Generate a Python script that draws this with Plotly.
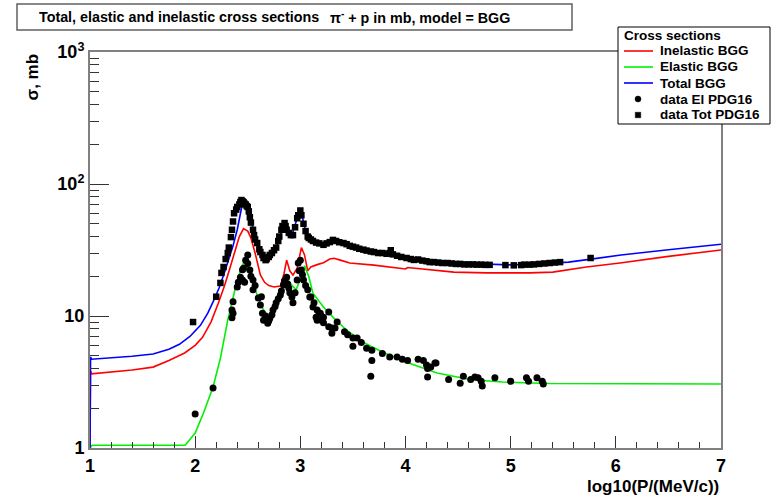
import plotly.graph_objects as go

FONT = "Liberation Sans"

# ---------------- model curves ----------------
tot_x = [1.0, 1.005, 1.015, 1.2, 1.4, 1.6, 1.75, 1.85, 1.95, 2.05, 2.12, 2.18, 2.23, 2.28, 2.32,
         2.36, 2.40, 2.43, 2.455, 2.48, 2.51, 2.55, 2.59, 2.63, 2.67, 2.71, 2.76, 2.80, 2.835,
         2.86, 2.89, 2.92, 2.96, 2.99, 3.02, 3.05, 3.08, 3.13, 3.20, 3.27, 3.32, 3.40, 3.50,
         3.65, 3.85, 4.0, 4.2, 4.45, 4.75, 5.0, 5.25, 5.55, 5.8, 6.05, 6.5, 7.0]
tot_y = [1.0, 4.9, 4.7, 4.8, 4.95, 5.15, 5.6, 6.1, 7.0, 8.5, 10.5, 13.3, 16.5, 21.5, 27,
         34, 45, 62, 75, 72, 60, 45, 36, 30, 27.5, 28.5, 32, 38, 48,
         49, 42, 41, 52, 62, 56, 44, 39, 36, 35, 37, 37.5, 35.5, 33.5,
         31, 29.5, 27.8, 26.3, 25.2, 24.6, 24.4, 24.8, 25.6, 27.2, 29, 31.8, 35]

inel_x = [1.0, 1.005, 1.015, 1.2, 1.4, 1.6, 1.75, 1.9, 2.0, 2.07, 2.15, 2.22, 2.28, 2.33, 2.38,
          2.42, 2.46, 2.50, 2.53, 2.57, 2.62, 2.66, 2.70, 2.75, 2.81, 2.845, 2.87, 2.90, 2.93,
          2.97, 3.01, 3.04, 3.07, 3.10, 3.16, 3.22, 3.28, 3.32, 3.38, 3.47, 3.70, 3.95, 4.0,
          4.02, 4.2, 4.46, 4.77, 5.18, 5.40, 5.72, 6.04, 6.5, 7.0]
inel_y = [1.0, 3.85, 3.65, 3.75, 3.9, 4.1, 4.6, 5.25, 6.0, 6.9, 9.0, 12.5, 17, 23, 32,
          40, 46, 44, 39, 30, 20.5, 18, 17, 16.6, 16.9, 21, 26.5, 22, 20.4,
          23, 33, 29, 22, 23.5, 24.5, 25.3, 27, 27.4, 26.5, 25.2, 24.3, 23.2, 22.7,
          23.3, 22.5, 21.5, 21.2, 21.2, 21.5, 23.5, 25.2, 28.3, 31.6]

el_x = [1.0, 1.02, 1.905, 2.0, 2.08, 2.17, 2.24, 2.31, 2.38, 2.44, 2.475, 2.50, 2.53, 2.57,
        2.64, 2.69, 2.74, 2.81, 2.86, 2.90, 2.96, 3.01, 3.04, 3.08, 3.12, 3.22, 3.31, 3.44,
        3.60, 3.79, 4.01, 4.30, 4.61, 4.92, 5.37, 6.05, 6.1, 7.0]
el_y = [1.0, 1.05, 1.05, 1.3, 1.85, 2.9, 4.8, 9.3, 16, 23.5, 26.5, 23, 19, 15.8,
        11.5, 9.8, 10.7, 14.9, 19.9, 17.8, 15.8, 19.9, 24, 19.9, 14.9, 11.7, 9.8, 7.8,
        6.3, 5.3, 4.47, 3.7, 3.3, 3.16, 3.08, 3.07, 3.05, 3.05]

# ---------------- data points ----------------
del_x = [2.00, 2.17, 2.35, 2.35, 2.36, 2.36, 2.40, 2.41, 2.43, 2.45, 2.45, 2.46, 2.47, 2.48,
         2.50, 2.50, 2.52, 2.53, 2.55, 2.55, 2.57, 2.60, 2.62, 2.63, 2.64, 2.65, 2.67, 2.69,
         2.70, 2.71, 2.73, 2.74, 2.76, 2.77, 2.79, 2.81, 2.82, 2.84, 2.85, 2.87, 2.88, 2.89,
         2.90, 2.92, 2.93, 2.95, 2.97, 2.98, 2.99, 3.00, 3.01, 3.02, 3.03, 3.05, 3.07, 3.09,
         3.10, 3.12, 3.13, 3.15, 3.16, 3.16, 3.18, 3.19, 3.20, 3.22, 3.22, 3.27, 3.27, 3.30,
         3.30, 3.33, 3.35, 3.42, 3.45, 3.50, 3.50, 3.54, 3.58, 3.63, 3.68, 3.68, 3.67, 3.78,
         3.85, 3.92, 3.97, 4.02, 4.12, 4.17, 4.20, 4.21, 4.21, 4.24, 4.28, 4.29, 4.41, 4.52,
         4.55, 4.62, 4.66, 4.69, 4.72, 4.73, 4.85, 5.00, 5.15, 5.17, 5.25, 5.30, 5.31]
del_y = [1.81, 2.85, 9.7, 11.1, 12.8, 10.5, 16.6, 18, 19.7, 22.4, 18.7, 23, 18, 26.5,
         29, 25, 22.3, 20, 18.7, 15.8, 17, 13.7, 12.1, 14, 10.5, 9.3, 10, 8.8,
         9.2, 9.6, 10.2, 11.1, 11.8, 12.6, 13.5, 14.4, 15.5, 17.2, 18.5, 19.7, 17.5, 16.3,
         15, 13.9, 12.6, 15, 18.7, 25.2, 22, 26.5, 22.3, 20.5, 18.7, 17, 15.8, 13.9,
         13.9, 11.7, 12.6, 9.8, 11.1, 9.3, 10.5, 10.5, 9.3, 8.9, 9.8, 8.3, 10.7, 7.4,
         8.1, 8.1, 9.0, 7.6, 7.2, 6.8, 5.9, 6.8, 6.3, 5.7, 5.5, 4.6, 3.5, 5.2,
         4.9, 4.9, 4.7, 4.6, 4.7, 4.6, 4.25, 4.0, 3.45, 4.1, 4.4, 4.4, 3.3, 3.1,
         3.5, 3.3, 3.45, 3.4, 3.2, 2.95, 3.4, 3.2, 3.4, 3.2, 3.4, 3.2, 3.05]

dtot_x = [1.98, 2.20, 2.24, 2.25, 2.27, 2.29, 2.31, 2.32, 2.34, 2.35, 2.36, 2.37, 2.39, 2.40,
          2.42, 2.43, 2.44, 2.45, 2.46, 2.47, 2.48, 2.49, 2.50, 2.51, 2.52, 2.53, 2.55, 2.56,
          2.57, 2.59, 2.61, 2.62, 2.64, 2.65, 2.67, 2.68, 2.70, 2.71, 2.73, 2.75, 2.77, 2.79,
          2.80, 2.82, 2.83, 2.85, 2.86, 2.87, 2.89, 2.91, 2.93, 2.95, 2.97, 2.98, 3.00, 3.01,
          3.03, 3.05, 3.07, 3.08, 3.10, 3.12, 3.15, 3.18, 3.22, 3.25, 3.28, 3.31, 3.34, 3.37,
          3.41, 3.44, 3.47, 3.50, 3.53, 3.56, 3.60, 3.63, 3.67, 3.70, 3.74, 3.78, 3.82, 3.85,
          3.86, 3.88, 3.92, 3.96, 4.01, 4.05, 4.08, 4.12, 4.16, 4.20, 4.23, 4.27, 4.31, 4.35,
          4.40, 4.44, 4.48, 4.52, 4.56, 4.60, 4.64, 4.68, 4.72, 4.76, 4.80, 4.95, 5.03, 5.10,
          5.13, 5.18, 5.22, 5.27, 5.32, 5.37, 5.42, 5.47, 5.76]
dtot_y = [9.0, 14, 17.8, 21.2, 23.5, 27, 30, 33, 39.6, 45, 52, 60, 64, 67,
          70, 73, 75.6, 74, 72.9, 71, 70, 68, 67, 62, 56, 51, 45, 41,
          38, 35.7, 32, 30.5, 29, 27.5, 26.5, 27, 28, 29, 30, 31.5, 33, 37,
          40, 45, 48, 50.6, 48, 45, 42.6, 41, 41, 47, 55, 58, 63, 58,
          50, 44, 40, 39, 38, 37, 36, 35.5, 34.6, 35.5, 36.3, 37.7, 37, 36.2,
          35.7, 35, 34, 33.5, 33, 32.3, 31.8, 31.3, 30.8, 30.5, 30, 30, 29.6, 30,
          31.5, 29.3, 28.6, 28, 27.5, 27, 26.6, 26.8, 26.3, 26, 25.6, 25.6, 25.4, 25.2,
          25.2, 25, 24.8, 24.8, 24.6, 24.6, 24.6, 24.5, 24.5, 24.4, 24.4, 24.3, 24.2, 24.3,
          24.5, 24.5, 24.6, 24.8, 25, 25.2, 25.4, 25.6, 27.5]

x_ticks = [1, 2, 3, 4, 5, 6, 7]
y_ticks = [1, 10, 100, 1000]
y_ticktext = ["1", "10", "10<sup>2</sup>", "10<sup>3</sup>"]
y_minor = [m * d for d in (1, 10, 100) for m in range(2, 10)]

line_series = [
    ("Inelastic BGG", inel_x, inel_y, "#ff0000"),
    ("Elastic BGG", el_x, el_y, "#00f000"),
    ("Total BGG", tot_x, tot_y, "#0000ff"),
]
point_series = [
    ("data El PDG16", del_x, del_y, "circle", 7),
    ("data Tot PDG16", dtot_x, dtot_y, "square", 6.5),
]

fig = go.Figure()
for name, xs, ys, col in line_series:
    fig.add_trace(go.Scatter(x=xs, y=ys, mode="lines", name=name, showlegend=False,
                             line=dict(color=col, width=1.6)))
for name, xs, ys, sym, sz in point_series:
    fig.add_trace(go.Scatter(x=xs, y=ys, mode="markers", name=name, showlegend=False,
                             marker=dict(symbol=sym, size=sz, color="black")))

frame = "#808080"
fig.update_xaxes(range=[1, 7], tickmode="array", tickvals=x_ticks,
                 ticks="inside", ticklen=12, tickwidth=1, tickcolor="#333",
                 minor=dict(ticks="inside", ticklen=6, dtick=0.2, tick0=1, tickcolor="#333"),
                 showline=True, mirror=True, linecolor=frame, linewidth=2,
                 showgrid=False, zeroline=False,
                 tickfont=dict(family=FONT, size=18, color="black", weight="bold"))
fig.update_yaxes(type="log", range=[0, 3], tickmode="array", tickvals=y_ticks,
                 ticktext=y_ticktext, ticks="inside", ticklen=19, tickwidth=1, tickcolor="#333",
                 minor=dict(ticks="inside", ticklen=9, tickmode="array", tickvals=y_minor,
                            tickcolor="#333"),
                 showline=True, mirror=True, linecolor=frame, linewidth=2,
                 showgrid=False, zeroline=False,
                 tickfont=dict(family=FONT, size=18, color="black", weight="bold"))

# ---------- pixel -> paper helpers (plot area: x 90..721, y 52..448) ----------
def px(x):
    return (x - 90) / 631.0

def py(y):
    return 1 + (52 - y) / 396.0

bold = lambda s: dict(family=FONT, size=s, color="black", weight="bold")

shapes = [
    # title box
    dict(type="rect", xref="paper", yref="paper", x0=px(17), x1=px(572), y0=py(30), y1=py(4),
         line=dict(color="#606060", width=1.5), fillcolor="white", layer="above"),
    # legend box
    dict(type="rect", xref="paper", yref="paper", x0=px(618), x1=px(770), y0=py(124), y1=py(27),
         line=dict(color="black", width=1), fillcolor="white", layer="above"),
]
annotations = [
    dict(text="Total, elastic and inelastic cross sections", xref="paper", yref="paper",
         x=px(37), y=py(17), xanchor="left", yanchor="middle", showarrow=False, font=bold(14.3)),
    dict(text="\u03c0<sup>-</sup> + p in mb, model = BGG", xref="paper", yref="paper",
         x=px(328), y=py(17), xanchor="left", yanchor="middle", showarrow=False, font=bold(14.3)),
    dict(text="log10(P/(MeV/c))", xref="paper", yref="paper", x=1.0, y=py(487),
         xanchor="right", yanchor="middle", showarrow=False, font=bold(17)),
    dict(text="\u03c3, mb", xref="paper", yref="paper", x=px(32), y=1.0,
         xanchor="center", yanchor="top", textangle=-90, showarrow=False, font=bold(17)),
    dict(text="Cross sections", xref="paper", yref="paper", x=px(622), y=py(35),
         xanchor="left", yanchor="middle", showarrow=False, font=bold(13.5)),
]

# legend entries built from the series
entry_y = [51, 67, 83, 99, 115]
for (name, _, _, col), ey in zip(line_series, entry_y[:3]):
    shapes.append(dict(type="line", xref="paper", yref="paper", x0=px(624), x1=px(653),
                       y0=py(ey), y1=py(ey), line=dict(color=col, width=1.6), layer="above"))
    annotations.append(dict(text=name, xref="paper", yref="paper", x=px(658), y=py(ey),
                            xanchor="left", yanchor="middle", showarrow=False, font=bold(13.5)))
for (name, _, _, sym, sz), ey in zip(point_series, entry_y[3:]):
    r = sz / 2.0 - 0.5
    shapes.append(dict(type="circle" if sym == "circle" else "rect",
                       xref="paper", yref="paper", xsizemode="pixel", ysizemode="pixel",
                       xanchor=px(638), yanchor=py(ey), x0=-r, x1=r, y0=-r, y1=r,
                       line=dict(color="black", width=0.5), fillcolor="black", layer="above"))
    annotations.append(dict(text=name, xref="paper", yref="paper", x=px(658), y=py(ey),
                            xanchor="left", yanchor="middle", showarrow=False, font=bold(13.5)))

fig.update_layout(
    width=771, height=496,
    margin=dict(l=90, r=50, t=52, b=48),
    paper_bgcolor="white", plot_bgcolor="white",
    font=dict(family=FONT, color="black"),
    showlegend=False,
    shapes=shapes,
    annotations=annotations,
)

fig.write_html("out.html")
